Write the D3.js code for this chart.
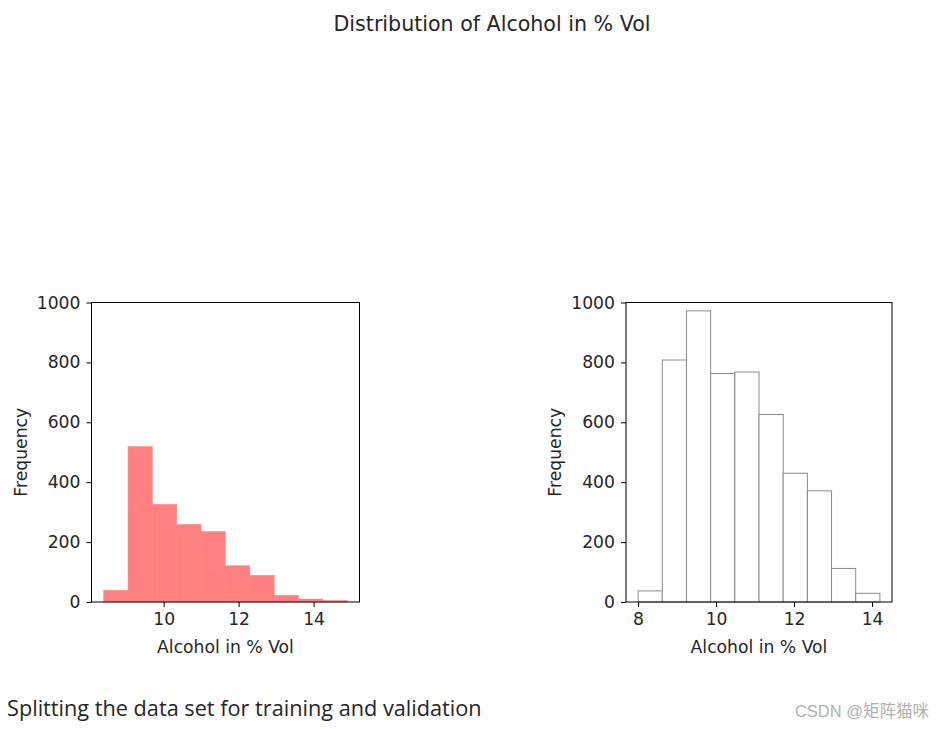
<!DOCTYPE html>
<html><head><meta charset="utf-8">
<script src="https://cdn.jsdelivr.net/npm/d3@7"></script>
<style>
body{margin:0;background:#fff;}
svg text{fill:#262626;}
</style></head>
<body>
<svg id="c" width="943" height="729"></svg>
<script>
// Data
const title = "Distribution of Alcohol in % Vol";
const xLabel = "Alcohol in % Vol";
const yLabel = "Frequency";
const yTicks = [0, 200, 400, 600, 800, 1000];
// Red wine histogram (10 bins)
const redEdges = [8.4, 9.05, 9.7, 10.35, 11.0, 11.65, 12.3, 12.95, 13.6, 14.25, 14.9];
const redCounts = [39, 519, 326, 259, 235, 121, 89, 22, 10, 5];
const redXTicks = [10, 12, 14];
// White wine histogram (10 bins)
const whiteEdges = [8.0, 8.62, 9.24, 9.86, 10.48, 11.1, 11.72, 12.34, 12.96, 13.58, 14.2];
const whiteCounts = [37, 808, 972, 763, 768, 626, 430, 371, 112, 29];
const whiteXTicks = [8, 10, 12, 14];
const footer = "Splitting the data set for training and validation";
const watermark = "CSDN @矩阵猫咪";

const svg = d3.select("#c");
const FONT = "'DejaVu Sans', sans-serif";
const FS = 17.2;

svg.append("text").attr("x", 492).attr("y", 31).attr("text-anchor", "middle")
  .attr("font-family", FONT).attr("font-size", 20.6).text(title);

function panel(x0, x1, y0, y1, edges, counts, xticks, style) {
  const lo = edges[0], hi = edges[edges.length - 1], pad = (hi - lo) * 0.05;
  const x = d3.scaleLinear().domain([lo - pad, hi + pad]).range([x0, x1]);
  const y = d3.scaleLinear().domain([0, 1000]).range([y1, y0]);
  const g = svg.append("g");
  const bins = counts.map((c, i) => ({a: edges[i], b: edges[i + 1], c}));
  g.selectAll("rect").data(bins).join("rect")
    .attr("x", d => x(d.a)).attr("width", d => x(d.b) - x(d.a))
    .attr("y", d => y(d.c)).attr("height", d => y(0) - y(d.c))
    .attr("fill", style.fill).attr("stroke", style.stroke).attr("stroke-width", style.sw);
  // frame
  g.append("rect").attr("x", x0).attr("y", y0).attr("width", x1 - x0).attr("height", y1 - y0)
    .attr("fill", "none").attr("stroke", "#000").attr("stroke-width", 1);
  const ax = g.append("g").attr("transform", `translate(0,${y1})`)
    .call(d3.axisBottom(x).tickValues(xticks).tickSize(5).tickPadding(4).tickFormat(d3.format("d")));
  const ay = g.append("g").attr("transform", `translate(${x0},0)`)
    .call(d3.axisLeft(y).tickValues(yTicks).tickSize(5).tickPadding(6).tickFormat(d3.format("d")));
  [ax, ay].forEach(a => {
    a.select(".domain").remove();
    a.selectAll("line").attr("stroke", "#000");
    a.selectAll("text").attr("font-family", FONT).attr("font-size", FS).attr("fill", "#262626");
  });
  ax.selectAll("text").attr("dy", "0.8em");
  g.append("text").attr("x", (x0 + x1) / 2).attr("y", y1 + 51).attr("text-anchor", "middle")
    .attr("font-family", FONT).attr("font-size", FS).text(xLabel);
  g.append("text").attr("transform", `translate(${x0 - 65},${(y0 + y1) / 2}) rotate(-90)`)
    .attr("text-anchor", "middle").attr("font-family", FONT).attr("font-size", FS).text(yLabel);
}

panel(91.5, 359.5, 302.5, 602, redEdges, redCounts, redXTicks, {fill: "#ff8080", stroke: "#ff8080", sw: 0.5});
panel(626, 892, 302.5, 602, whiteEdges, whiteCounts, whiteXTicks, {fill: "#fff", stroke: "#8a8a8a", sw: 1});

svg.append("text").attr("x", 7).attr("y", 716).attr("font-family", "'Open Sans', 'Noto Sans', sans-serif")
  .attr("font-size", 21.7).attr("fill", "#111").text(footer);
svg.append("text").attr("x", 929).attr("y", 717).attr("text-anchor", "end")
  .attr("font-family", "'Liberation Sans', 'Noto Sans CJK SC', sans-serif").attr("font-size", 16.5)
  .style("fill", "#b0b0b0").text(watermark);
</script>
</body></html>
